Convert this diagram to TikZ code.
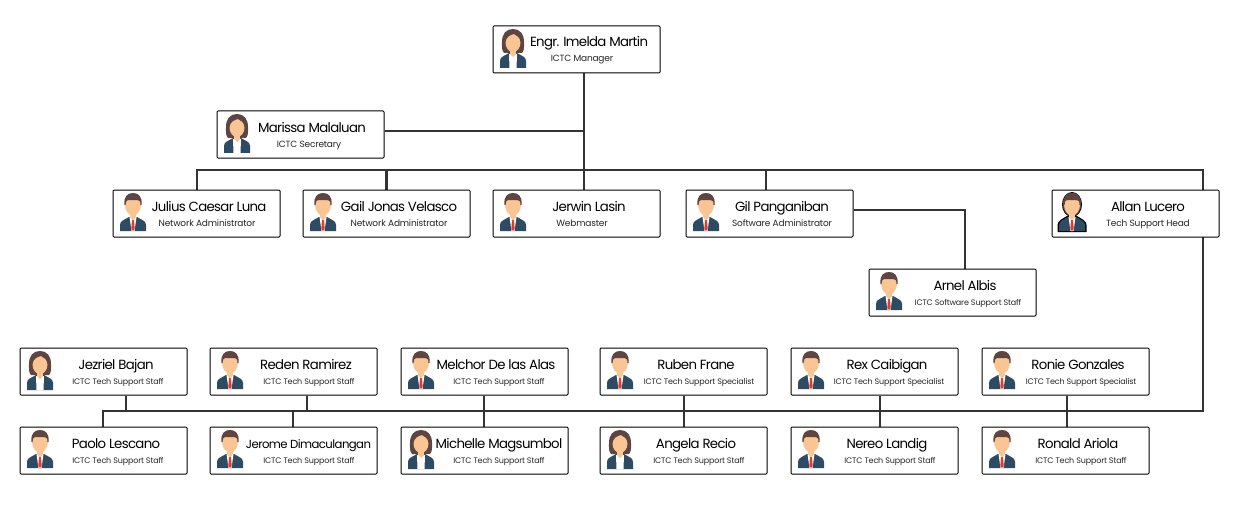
\documentclass[tikz,border=0pt]{standalone}
\usepackage{fontspec}
\setmainfont{Poppins}
\newfontfamily\namefont[LetterSpace=-5]{Poppins}
\newfontfamily\rolefont[LetterSpace=-2]{Poppins}
\usetikzlibrary{backgrounds}
\definecolor{hairc}{HTML}{5E4541}
\definecolor{skinc}{HTML}{F9C592}
\definecolor{suitc}{HTML}{2D4B62}
\definecolor{tiec}{HTML}{E5392B}
\definecolor{linec}{HTML}{333333}
\tikzset{
  x=1pt,y=-1pt,
  personbox/.style={draw=black,fill=white,line width=1pt,rounded corners=1pt,minimum width=167pt,minimum height=47pt,anchor=north west,inner sep=0pt},
  namelabel/.style={inner sep=0pt,anchor=base,font=\namefont\fontsize{13.3}{14}\selectfont,text=black},
  namelabel-jerome/.style={font=\namefont\fontsize{11.7}{12}\selectfont},
  rolelabel/.style={inner sep=0pt,anchor=base,font=\rolefont\fontsize{9}{10}\selectfont,text=black!85},
  smallrole/.style={rolelabel,font=\rolefont\fontsize{8}{9}\selectfont},
  conn/.style={draw=linec,line width=2.4pt,line cap=butt,line join=miter},
  pics/maleav/.style={code={
    \fill[suitc] (-13,38) -- (-13,32) .. controls (-13,28) and (-9,27) .. (-4,24) -- (4,24) .. controls (9,27) and (13,28) .. (13,32) -- (13,38) -- cycle;
    \fill[white] (-3.5,24) -- (3.5,24) -- (1.5,38) -- (-1.5,38) -- cycle;
    \fill[tiec] (-1,27) -- (1,27) -- (1.7,36) -- (0,38) -- (-1.7,36) -- cycle;
    \fill[skinc] (-3,18) rectangle (3,24);
    \fill[skinc] (-3,24) -- (3,24) -- (0,27.5) -- cycle;
    \fill[skinc] (0,11.5) ellipse [x radius=8,y radius=11];
    \fill[hairc] (-8.5,12) .. controls (-9.5,3) and (-5,0) .. (0,0) .. controls (5,0) and (9.5,3) .. (8.5,12) -- (7.5,12) .. controls (7.5,8) and (6.5,7) .. (4,7) -- (-5,7) .. controls (-6.5,7) and (-7.5,9) .. (-7.5,12) -- cycle;
  }},
  pics/femaleav/.style={code={
    \fill[hairc] (0,0) .. controls (7,0) and (11,5) .. (11,13) .. controls (11,18) and (11.5,21) .. (9,24) -- (-9,24) .. controls (-11.5,21) and (-11,18) .. (-11,13) .. controls (-11,5) and (-7,0) .. (0,0) -- cycle;
    \fill[suitc] (-13,39) -- (-13,32) .. controls (-13,28) and (-9,27) .. (-4,24) -- (4,24) .. controls (9,27) and (13,28) .. (13,32) -- (13,39) -- cycle;
    \fill[white] (-4,25) -- (4,25) -- (3.5,39) -- (-3.5,39) -- cycle;
    \fill[skinc] (-3,18) rectangle (3,25);
    \fill[skinc] (-3,25) -- (3,25) -- (0,28) -- cycle;
    \fill[skinc] (0,13.5) ellipse [x radius=7.5,y radius=9.5];
    \fill[hairc] (-7.5,13) .. controls (-7,8) and (-3,6) .. (1,5) .. controls (4,7) and (7,8) .. (7.5,13) -- (9,8) -- (0,2) -- (-9,8) -- cycle;
  }},
  pics/bossav/.style={code={
    \fill[black] (0,11.5) ellipse [x radius=10,y radius=12.5];
    \fill[black] (-14.5,39) -- (-14.5,32) .. controls (-14.5,28) and (-10,26) .. (-5,23) -- (5,23) .. controls (10,26) and (14.5,28) .. (14.5,32) -- (14.5,39) -- cycle;
    \fill[hairc] (0,11.5) ellipse [x radius=9.2,y radius=11.7];
    \pic {maleav};
  }},
}
% optional role style; id, left, top, avatar, name, name centre x, role, role centre x
\newcommand{\personcard}[9][rolelabel]{%
  \node[personbox] (#2) at (#3-0.5,#4-0.5) {};
  \pic at (#3+20,#4+3) {#5};
  \node[namelabel,namelabel-#2/.try] (#2-name) at (#7,#4+21) {#6};
  \node[#1] (#2-role) at (#9,#4+36) {#8};
}
\begin{document}
\begin{tikzpicture}
\useasboundingbox (0,0) rectangle (1250,524);
\personcard{imelda}{493}{26}{femaleav}{Engr. Imelda Martin}{589}{ICTC Manager}{582}
\personcard{marissa}{217}{111}{femaleav}{Marissa Malaluan}{312}{ICTC Secretary}{309}
\personcard{julius}{113}{190}{maleav}{Julius Caesar Luna}{209}{Network Administrator}{207}
\personcard{gail}{303}{190}{maleav}{Gail Jonas Velasco}{399}{Network Administrator}{399}
\personcard{jerwin}{493}{190}{maleav}{Jerwin Lasin}{589}{Webmaster}{582}
\personcard{gil}{686}{190}{maleav}{Gil Panganiban}{782}{Software Administrator}{782}
\personcard{allan}{1052}{190}{bossav}{Allan Lucero}{1148}{Tech Support Head}{1148}
\personcard[smallrole]{arnel}{869}{269}{maleav}{Arnel Albis}{965}{ICTC Software Support Staff}{968}
\personcard[smallrole]{jezriel}{20}{348}{femaleav}{Jezriel Bajan}{116}{ICTC Tech Support Staff}{118}
\personcard[smallrole]{reden}{210}{348}{maleav}{Reden Ramirez}{306}{ICTC Tech Support Staff}{309}
\personcard[smallrole]{melchor}{401}{348}{maleav}{Melchor De las Alas}{496}{ICTC Tech Support Staff}{499}
\personcard[smallrole]{ruben}{600}{348}{maleav}{Ruben Frane}{696}{ICTC Tech Support Specialist}{699}
\personcard[smallrole]{rex}{791}{348}{maleav}{Rex Caibigan}{887}{ICTC Tech Support Specialist}{889}
\personcard[smallrole]{ronie}{982}{348}{maleav}{Ronie Gonzales}{1078}{ICTC Tech Support Specialist}{1081}
\personcard[smallrole]{paolo}{20}{427}{maleav}{Paolo Lescano}{116}{ICTC Tech Support Staff}{118}
\personcard[smallrole]{jerome}{210}{427}{maleav}{Jerome Dimaculangan}{308.5}{ICTC Tech Support Staff}{309}
\personcard[smallrole]{michelle}{401}{427}{femaleav}{Michelle Magsumbol}{499}{ICTC Tech Support Staff}{499}
\personcard[smallrole]{angela}{600}{427}{femaleav}{Angela Recio}{696}{ICTC Tech Support Staff}{699}
\personcard[smallrole]{nereo}{791}{427}{maleav}{Nereo Landig}{887}{ICTC Tech Support Staff}{890}
\personcard[smallrole]{ronald}{982}{427}{maleav}{Ronald Ariola}{1078}{ICTC Tech Support Staff}{1081}
\coordinate (busa) at (197,170);
\coordinate (busb) at (1203,170);
\coordinate (busc) at (1203,411);
\coordinate (busd) at (103,411);
\coordinate (arnelfeed) at (965,210);
\coordinate (marissafeed) at (584,131);
\begin{scope}[on background layer]
\fill[white] (0,0) rectangle (1250,524);
\path[conn] (584,0 |- imelda.south) -- (584,0 |- jerwin.north);
\path[conn] (marissa.east |- marissafeed) -- (marissafeed);
\path[conn] (busa |- julius.north) -- (busa) -- (busb) -- (busc) -- (busd) -- (busd |- paolo.north);
\path[conn] (gail.north) -- (gail.north |- busa);
\path[conn] (766,0 |- gil.north) -- (766,0 |- busa);
\path[conn] (gil.east |- arnelfeed) -- (arnelfeed) -- (arnelfeed |- arnel.north);
\path[conn] (126,0 |- jezriel.south) -- (126,0 |- busd);
\path[conn] (307,0 |- reden.south) -- (307,0 |- busd);
\path[conn] (293,0 |- busd) -- (293,0 |- jerome.north);
\path[conn] (484,0 |- melchor.south) -- (484,0 |- michelle.north);
\path[conn] (684,0 |- ruben.south) -- (684,0 |- angela.north);
\path[conn] (880,0 |- rex.south) -- (880,0 |- nereo.north);
\path[conn] (1067,0 |- ronie.south) -- (1067,0 |- ronald.north);
\end{scope}
\end{tikzpicture}
\end{document}
